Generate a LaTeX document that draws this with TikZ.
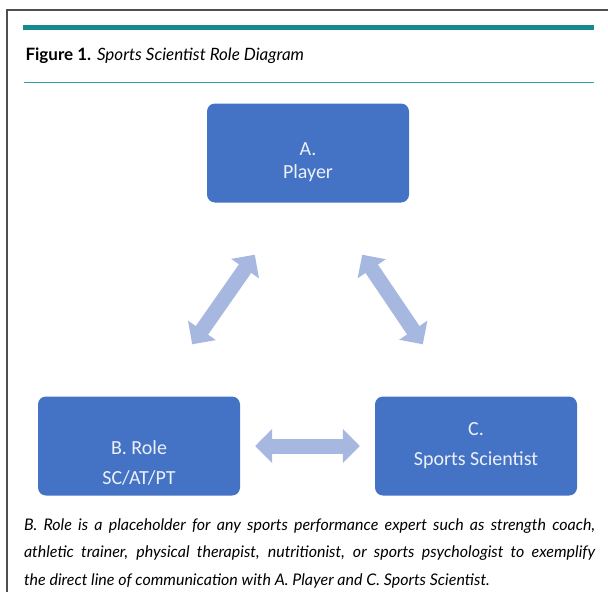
\documentclass[tikz,border=0pt]{standalone}
\usepackage{fontspec}
\setmainfont{Lato}
\newfontfamily\boxfont{Carlito}
\usetikzlibrary{arrows.meta, positioning}
\definecolor{boxblue}{HTML}{4472C4}
\definecolor{linkblue}{HTML}{A6B8DF}
\definecolor{tealrule}{HTML}{168A8F}
\definecolor{thinrule}{HTML}{2CA2A9}
\definecolor{framegray}{HTML}{505050}

\begin{document}
\begin{tikzpicture}[x=1pt, y=-1pt, on grid, role/.style={rectangle, rounded corners=8pt, fill=boxblue, text=white!90!boxblue, minimum width=202pt, minimum height=99pt, align=center, font=\boxfont\fontsize{20}{30}\selectfont}, link/.style={draw=linkblue, line width=15pt, {Triangle[length=17pt,width=33pt]}-{Triangle[length=17pt,width=33pt]}}]

            \useasboundingbox (0,0) rectangle (608,592);

            % frame and rules
            \draw[framegray, line width=1.5pt] (608,10) -- (7,10) -- (7,592);
            \draw[tealrule, line width=5pt] (23,27) -- (594,27);
            \draw[thinrule, line width=1pt] (24,82) -- (594,82);

            \node[anchor=west, font=\fontsize{17}{20}\selectfont] (title) at (22,56) {\textbf{Figure 1.} \textit{Sports Scientist Role Diagram}};

            \node[role, font=\boxfont\fontsize{20}{23}\selectfont] (A) at (308,153) {\mbox{}\\[8pt]A.\\Player};
            \node[role, below left=293pt and 169pt of A] (B) {\mbox{}\\[17pt]B. Role\\SC/AT/PT};
            \node[role, below right=293pt and 168pt of A] (C) {C.\\Sports Scientist};

            \node[text width=571pt, align=justify, font=\itshape\fontsize{16}{27.5}\selectfont] (note) at (309.5,553) {B. Role is a placeholder for any sports performance expert such as strength coach,\linebreak athletic trainer, physical therapist, nutritionist, or sports psychologist to exemplify\linebreak the direct line of communication with A. Player and C. Sports Scientist.};

            \draw[link] ([shift={(-48pt,52pt)}]B.north east) -- ([shift={(48pt,-52pt)}]A.south west);
            \draw[link] ([shift={(48pt,52pt)}]C.north west) -- ([shift={(-47pt,-52pt)}]A.south east);
            \draw[link, shorten <=15pt, shorten >=15pt] (B) -- (C);

        \end{tikzpicture}
\end{document}
